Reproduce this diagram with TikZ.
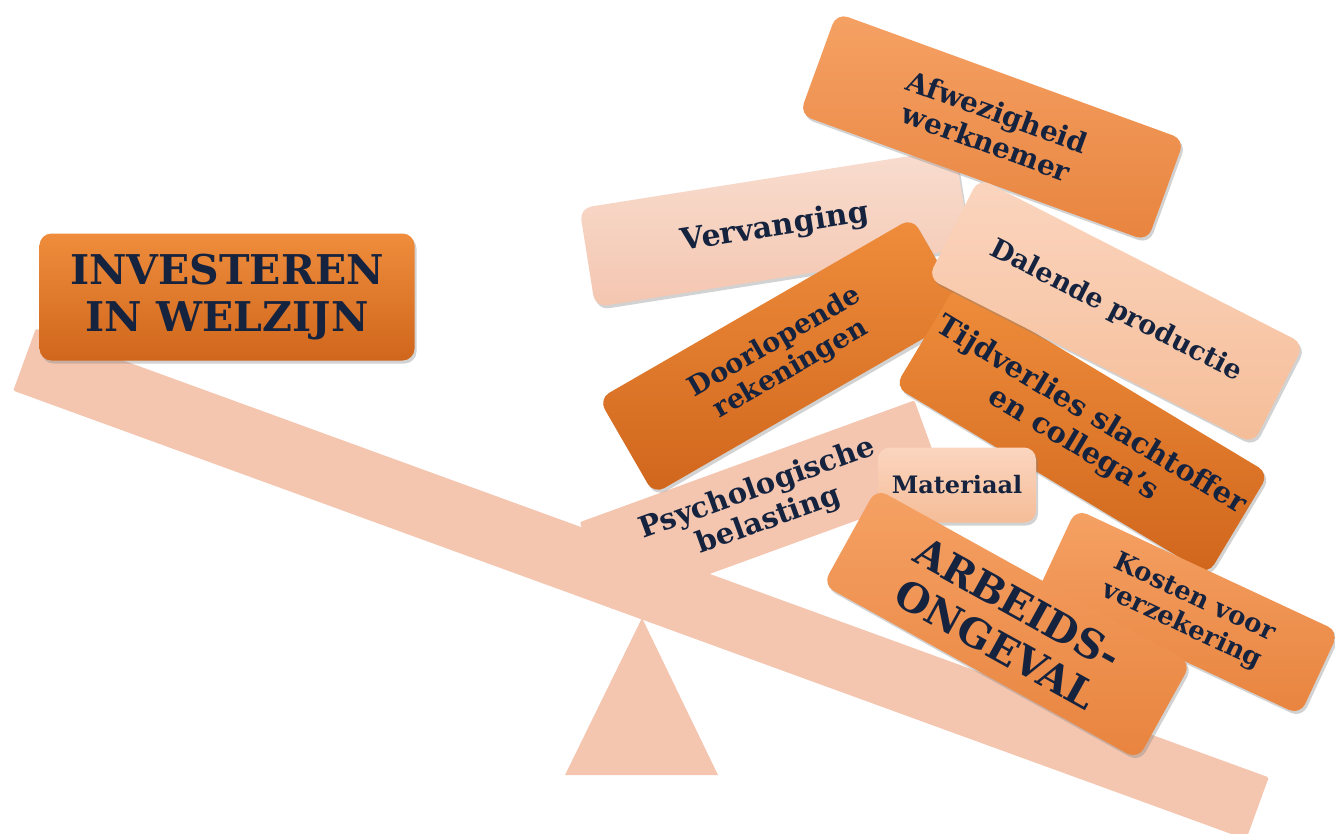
\documentclass[tikz,border=0pt]{standalone}
\usepackage{fontspec}
\setmainfont{DejaVu Serif}
\usetikzlibrary{shadows}

\definecolor{inkblue}{HTML}{15233F}
\definecolor{beamcol}{HTML}{F4C6B0}
\definecolor{darktop}{HTML}{EF8D3C}
\definecolor{darkbot}{HTML}{D0661C}
\definecolor{midtop}{HTML}{F5A164}
\definecolor{midbot}{HTML}{E8843F}
\definecolor{lighttop}{HTML}{FBD5BF}
\definecolor{lightbot}{HTML}{F5BD98}

\tikzset{
  plank/.style={rounded corners=12pt, inner sep=0pt, align=center, text=inkblue,
    drop shadow={shadow xshift=2pt, shadow yshift=-3pt, opacity=.35}},
  darkplank/.style={plank, top color=darktop, bottom color=darkbot},
  midplank/.style={plank, top color=midtop, bottom color=midbot},
  lightplank/.style={plank, top color=lighttop, bottom color=lightbot},
  paleplank/.style={plank, top color=beamcol!60!white, bottom color=beamcol},
  flatplank/.style={rounded corners=2pt, inner sep=0pt, align=center, text=inkblue, fill=beamcol},
  txt/.style={font=\fontsize{#1}{#1}\linespread{1.16}\selectfont\bfseries}
}

\begin{document}
\begin{tikzpicture}[x=1pt,y=-1pt]     % the see-saw with the costs piled on the right
  \path[use as bounding box, fill=white] (0,0) rectangle (1335,833);

  \node[flatplank, rotate=-20, minimum width=1312, minimum height=66] (beam) at (641,584) {};
  \fill[beamcol] (642,618) -- (565,775) -- (718,775) -- cycle;

  \node[paleplank, rotate=9, minimum width=380, minimum height=100, txt=30] (verv) at (775,228) {Vervanging};
  \node[midplank, rotate=-20, minimum width=370, minimum height=108, txt=28] (afw) at (992,127) {Afwezigheid\\werknemer};
  \node[flatplank, rotate=20, minimum width=356, minimum height=93, txt=29] (psych) at (763,505) {Psychologische\\belasting};
  \node[darkplank, rotate=30, minimum width=362, minimum height=110, txt=27] (door) at (783,356) {Doorlopende\\rekeningen};
  \node[darkplank, rotate=-31, minimum width=365, minimum height=118, txt=29] (tijd) at (1082,430) {Tijdverlies slachtoffer\\en collega’s};
  \node[lightplank, rotate=-27, minimum width=365, minimum height=112, txt=27] (dal) at (1116,311) {Dalende productie};
  \node[lightplank, minimum width=158, minimum height=75, txt=24] (mat) at (957,485) {Materiaal};
  \node[midplank, rotate=-25, minimum width=290, minimum height=92, txt=26] (kost) at (1188,612) {Kosten voor\\verzekering};
  \node[midplank, rotate=-29, minimum width=360, minimum height=110, txt=40] (arb) at (1007,624) {ARBEIDS-\\ONGEVAL};

  \node[darkplank, minimum width=375, minimum height=127, txt=41] (invest) at (227,297) {INVESTEREN\\IN WELZIJN};
\end{tikzpicture}
\end{document}
